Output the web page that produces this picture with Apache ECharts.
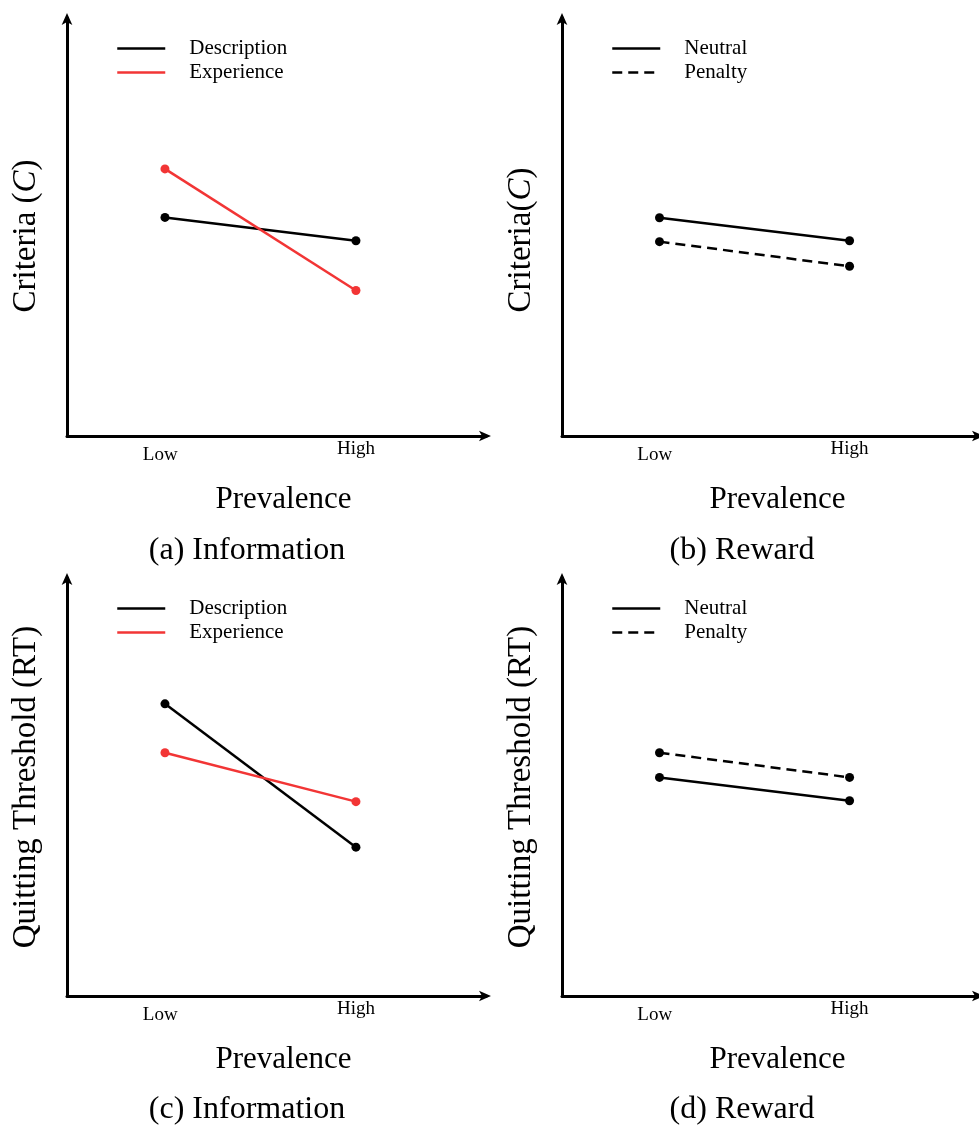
<!DOCTYPE html>
<html><head><meta charset="utf-8">
<script src="https://cdn.jsdelivr.net/npm/echarts@6/dist/echarts.min.js"></script>
<style>html,body{margin:0;padding:0;background:#fff}#c{width:979px;height:1126px}</style>
</head><body><div id="c"></div>
<script>
// ---- data ----
const categories = ['Low', 'High'];
const infoLegend = ['Description', 'Experience'];
const rewardLegend = ['Neutral', 'Penalty'];
// (a) Criteria – Information
const aDescription = [5.23, 4.67];
const aExperience  = [6.39, 3.48];
// (b) Criteria – Reward
const bNeutral = [5.22, 4.67];
const bPenalty = [4.65, 4.06];
// (c) Quitting threshold – Information
const cDescription = [6.99, 3.56];
const cExperience  = [5.82, 4.65];
// (d) Quitting threshold – Reward
const dNeutral = [5.23, 4.67];
const dPenalty = [5.82, 5.23];
const captions = ['(a) Information', '(b) Reward', '(c) Information', '(d) Reward'];
const xAxisName = 'Prevalence';
const yNames = ['Criteria ({i|C})', 'Criteria({i|C})', 'Quitting Threshold (RT)', 'Quitting Threshold (RT)'];

// ---- styling ----
const FONT = 'Liberation Serif';
const RED = '#f23535';
const BLACK = '#000000';

const chart = echarts.init(document.getElementById('c'), null, {renderer: 'canvas'});

const panels = [
  {left: 67,  top: 18,  yName: yNames[0], shift: 18, legend: infoLegend,
   series: [{name: infoLegend[0], data: aDescription, color: BLACK, dash: 'solid'},
            {name: infoLegend[1], data: aExperience, color: RED, dash: 'solid'}]},
  {left: 562, top: 18,  yName: yNames[1], shift: 26, legend: rewardLegend,
   series: [{name: rewardLegend[0], data: bNeutral, color: BLACK, dash: 'solid'},
            {name: rewardLegend[1], data: bPenalty, color: BLACK, dash: [10, 6]}]},
  {left: 67,  top: 578, yName: yNames[2], shift: 0, legend: infoLegend,
   series: [{name: infoLegend[0], data: cDescription, color: BLACK, dash: 'solid'},
            {name: infoLegend[1], data: cExperience, color: RED, dash: 'solid'}]},
  {left: 562, top: 578, yName: yNames[3], shift: 0, legend: rewardLegend,
   series: [{name: rewardLegend[0], data: dNeutral, color: BLACK, dash: 'solid'},
            {name: rewardLegend[1], data: dPenalty, color: BLACK, dash: [10, 6]}]}
];

const GW = 419, GH = 418;
const option = {animation: false, backgroundColor: '#fff',
  grid: [], xAxis: [], yAxis: [], series: [], legend: [], graphic: []};

panels.forEach((p, k) => {
  option.grid.push({left: p.left, top: p.top, width: GW, height: GH, containLabel: false});
  option.xAxis.push({
    type: 'value', gridIndex: k, min: 0.487, max: 2.681,
    name: xAxisName, nameLocation: 'middle', nameGap: 48,
    nameTextStyle: {fontFamily: FONT, fontSize: 31, color: '#000', padding: [0, 0, 0, 14]},
    axisLine: {show: true, lineStyle: {color: '#000', width: 3}, symbol: ['none', 'arrow'],
               symbolSize: [8, 12], symbolOffset: [0, 5]},
    axisTick: {show: false}, splitLine: {show: false},
    axisLabel: {
      customValues: [0.975, 2.0], margin: 4, color: '#000',
      fontFamily: FONT, fontSize: 19,
      formatter: v => v < 1.5 ? '{lo|' + categories[0] + '}' : '{hi|' + categories[1] + '}',
      rich: {lo: {fontFamily: FONT, fontSize: 19, padding: [6, 0, 0, 0]},
             hi: {fontFamily: FONT, fontSize: 19, padding: [0, 0, 0, 0]}}
    }
  });
  option.yAxis.push({
    type: 'value', gridIndex: k, min: 0, max: 10,
    name: p.yName, nameLocation: 'middle', nameGap: 24,
    nameTextStyle: {fontFamily: FONT, fontSize: 33, color: '#000', padding: [0, p.shift, 0, 0],
      rich: {i: {fontFamily: FONT, fontSize: 33, fontStyle: 'italic', color: '#000'}}},
    axisLine: {show: true, lineStyle: {color: '#000', width: 3}, symbol: ['none', 'arrow'],
               symbolSize: [8, 12], symbolOffset: [0, 5]},
    axisTick: {show: false}, axisLabel: {show: false}, splitLine: {show: false}
  });
  p.series.forEach(s => {
    option.series.push({
      type: 'line', name: s.name, xAxisIndex: k, yAxisIndex: k,
      data: categories.map((c, i) => [i + 1, s.data[i]]),
      symbol: 'circle', symbolSize: 9, showSymbol: true,
      itemStyle: {color: s.color},
      lineStyle: {color: s.color, width: 2.5, type: s.dash},
      z: 3
    });
  });
  option.legend.push({
    orient: 'vertical', left: p.left + 44, top: p.top + 15,
    data: p.legend, itemWidth: 48, itemHeight: 14, itemGap: 3,
    itemStyle: {opacity: 0},
    lineStyle: {width: 2.5},
    textStyle: {fontFamily: FONT, fontSize: 21, color: '#000', padding: [0, 0, 0, 19]},
    selectedMode: false
  });
});

const capPos = [[247, 551], [742, 551], [247, 1110], [742, 1110]];
captions.forEach((t, k) => {
  option.graphic.push({type: 'text', x: capPos[k][0], y: capPos[k][1],
    style: {text: t, font: '32px "' + FONT + '"', fill: '#000', textAlign: 'center', textVerticalAlign: 'middle'}});
});

chart.setOption(option);
</script></body></html>
